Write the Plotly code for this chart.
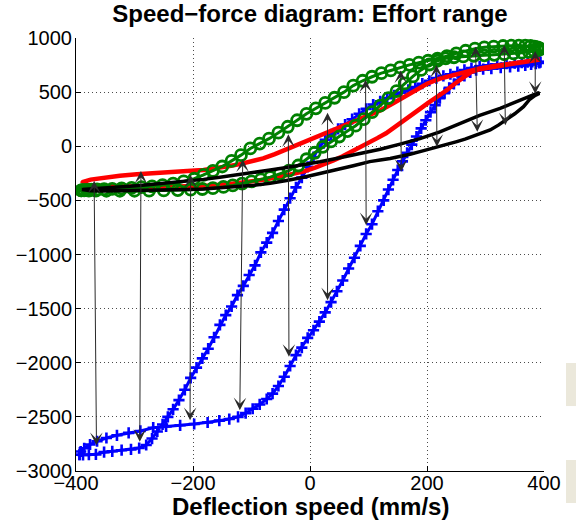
import plotly.graph_objects as go

# ---------------- data ----------------
blue_x = [-394, -388, -378, -366, -352, -338, -322, -306, -292, -280, -270, -261, -252, -243,
          -234, -224, -214, -204, -194, -184, -174, -164, -154, -144, -134, -124, -114, -104,
          -94, -84, -74, -64, -54, -44, -34, -24, -14, -4, 6, 16, 26, 36, 48, 60, 72, 84, 96,
          108, 120, 132, 144, 156, 168, 180, 192, 204, 216, 228, 240, 252, 264, 276, 290, 305,
          320, 336, 350, 362, 372, 380, 387, 392, 394, 392, 386, 378, 368, 356, 342, 326, 310,
          296, 284, 274, 264, 254, 246, 238, 230, 222, 214, 206, 198, 190, 182, 174, 166, 158,
          150, 142, 134, 126, 116, 106, 96, 86, 76, 66, 56, 46, 36, 26, 16, 6, -4, -14, -24,
          -34, -44, -54, -64, -74, -86, -98, -110, -123, -138, -155, -175, -198, -222, -246,
          -268, -290, -310, -330, -348, -364, -376, -386, -392, -394]
blue_y = [-2850, -2852, -2850, -2846, -2826, -2818, -2808, -2800, -2788, -2760, -2700, -2635,
          -2570, -2500, -2430, -2345, -2250, -2140, -2045, -1960, -1870, -1765, -1650, -1560,
          -1480, -1375, -1290, -1190, -1100, -980, -890, -800, -690, -585, -480, -380, -290,
          -190, -100, -10, 60, 110, 160, 200, 250, 300, 345, 385, 415, 445, 470, 495, 520, 548,
          578, 605, 630, 650, 665, 685, 705, 722, 738, 748, 755, 762, 767, 772, 776, 779, 781,
          781, 778, 770, 762, 755, 748, 741, 733, 725, 718, 712, 702, 682, 650, 615, 575, 540,
          490, 445, 380, 315, 240, 165, 90, 15, -60, -140, -220, -310, -400, -500, -600, -720,
          -810, -920, -1030, -1130, -1240, -1340, -1440, -1535, -1620, -1700, -1770, -1860,
          -1930, -2030, -2130, -2215, -2285, -2335, -2385, -2425, -2465, -2500, -2520, -2535,
          -2552, -2566, -2578, -2588, -2600, -2630, -2648, -2670, -2695, -2725, -2755, -2790,
          -2820, -2850]

red_x = [-390, -388, -375, -353, -325, -296, -268, -239, -210, -182, -160, -140, -120, -100,
         -80, -60, -40, -20, 0, 20, 40, 60, 80, 100, 120, 140, 160, 180, 200, 222, 245, 268,
         290, 315, 340, 365, 385, 393, 380, 359, 335, 310, 290, 275, 262, 248, 233, 217, 202,
         188, 174, 160, 145, 130, 115, 100, 85, 70, 55, 40, 25, 10, -10, -30, -55, -80, -110,
         -140, -170, -200, -240, -280, -320, -355, -380, -390]
red_y = [-345, -330, -308, -290, -272, -258, -246, -237, -228, -220, -205, -185, -165, -140,
         -112, -72, -28, 18, 62, 105, 148, 192, 236, 282, 330, 390, 455, 520, 578, 625, 658, 690,
         718, 742, 762, 780, 795, 802, 788, 772, 752, 730, 712, 685, 640, 580, 515, 450, 400,
         345, 290, 235, 175, 120, 75, 30, -10, -50, -95, -130, -165, -195, -232, -258, -285,
         -310, -335, -352, -363, -370, -374, -375, -374, -368, -358, -345]

green_x = [-391, -388, -382, -374, -364, -352, -338, -322, -305, -288, -270, -252, -234, -216,
           -198, -182, -166, -150, -134, -118, -102, -86, -70, -54, -38, -22, -6, 10, 26, 42, 58,
           74, 90, 106, 122, 138, 154, 170, 186, 202, 218, 234, 250, 266, 282, 298, 314, 330,
           344, 357, 368, 377, 384, 389, 392, 394,
           390, 383, 374, 362, 348, 332, 315, 298, 280, 262, 246, 232, 218, 204, 190, 176, 162,
           148, 134, 120, 106, 92, 78, 64, 50, 36, 22, 8, -6, -20, -36, -52, -68, -84, -100,
           -116, -132, -148, -166, -184, -204, -226, -250, -275, -300, -325, -348, -366, -378,
           -386, -391]
green_y = [-408, -405, -403, -401, -399, -397, -394, -390, -385, -378, -370, -360, -345, -325,
           -300, -265, -228, -187, -135, -82, -20, 25, 70, 125, 180, 240, 300, 350, 400, 448, 500,
           560, 605, 642, 675, 700, 728, 752, 772, 790, 810, 832, 858, 882, 902, 914, 921, 926,
           929, 930, 929, 926, 921, 914, 906, 898,
           888, 880, 872, 864, 857, 850, 845, 840, 836, 830, 822, 812, 790, 755, 705, 645, 580,
           510, 445, 375, 315, 250, 190, 140, 90, 45, -5, -60, -120, -178, -225, -258, -285,
           -306, -325, -345, -362, -376, -387, -395, -401, -405, -408, -410, -411, -411, -411,
           -410, -409, -408, -408]

black_x = [-390, -375, -353, -325, -296, -268, -239, -210, -182, -154, -125, -96, -68, -40, -11,
           17, 45, 74, 102, 120, 154, 188, 222, 256, 290, 325, 359, 380, 390,
           392, 385, 375, 365, 350, 336, 322, 308, 293, 279, 265, 251, 234, 217, 200, 188, 171,
           154, 137, 120, 102, 74, 45, 17, -11, -40, -68, -96, -125, -154, -182, -210, -239,
           -268, -296, -325, -353, -375, -388, -390]
black_y = [-400, -395, -385, -375, -364, -350, -336, -321, -306, -286, -266, -243, -220, -196,
           -173, -143, -113, -82, -52, -28, 20, 70, 132, 210, 285, 350, 425, 470, 492,
           488, 470, 430, 366, 300, 243, 195, 150, 118, 89, 65, 43, 20, -4, -28, -50, -74, -96,
           -113, -127, -142, -180, -219, -253, -287, -316, -343, -360, -373, -385, -395, -400,
           -404, -407, -410, -412, -413, -410, -405, -400]

# arrows: top tip and bottom tip of each effort-range arrow
arrow_x_top = [-369, -289, -204, -115, -37, 30, 95, 155, 216, 283, 332, 385]
arrow_y_top = [-318, -229, -266, -121, 110, 310, 615, 700, 750, 920, 935, 880]
arrow_x_bot = [-365, -291, -205, -120, -36, 30, 96, 156, 217, 286, 334, 385]
arrow_y_bot = [-2775, -2744, -2544, -2452, -1959, -1436, -743, -250, -19, 119, 181, 470]

x_ticks = [-400, -200, 0, 200, 400]
x_ticklabels = ['−400', '−200', '0', '200', '400']
y_ticks = [1000, 500, 0, -500, -1000, -1500, -2000, -2500, -3000]
y_ticklabels = ['1000', '500', '0', '−500', '−1000', '−1500', '−2000', '−2500', '−3000']

title_text = 'Speed−force diagram: Effort range'
xlabel_text = 'Deflection speed (mm/s)'

# ---------------- figure ----------------
FONT = 'Liberation Sans, Arial, Helvetica, sans-serif'
fig = go.Figure()

fig.add_trace(go.Scatter(
    x=blue_x, y=blue_y, mode='lines+markers',
    line=dict(color='#0000ff', width=3),
    marker=dict(symbol='cross-thin-open', size=8, color='#0000ff',
                line=dict(color='#0000ff', width=2.6)),
    hoverinfo='skip'))
fig.add_trace(go.Scatter(
    x=red_x, y=red_y, mode='lines',
    line=dict(color='#ff0000', width=4.5), hoverinfo='skip'))
fig.add_trace(go.Scatter(
    x=green_x, y=green_y, mode='lines+markers',
    line=dict(color='#008000', width=3),
    marker=dict(symbol='circle-open', size=11, color='#008000',
                line=dict(color='#008000', width=2.8)),
    hoverinfo='skip'))
fig.add_trace(go.Scatter(
    x=black_x, y=black_y, mode='lines',
    line=dict(color='#000000', width=3.5), hoverinfo='skip'))

for xt, yt, xb, yb in zip(arrow_x_top, arrow_y_top, arrow_x_bot, arrow_y_bot):
    fig.add_annotation(
        x=xt, y=yt, ax=xb, ay=yb, xref='x', yref='y', axref='x', ayref='y',
        text='', showarrow=True, arrowhead=3, arrowsize=2.1, arrowwidth=1,
        arrowcolor='#2a2a2a', arrowside='end+start', startarrowhead=3,
        startarrowsize=2.1, standoff=0, startstandoff=0)

axis_common = dict(
    showline=True, linecolor='black', linewidth=1, mirror=False, automargin=False,
    ticks='inside', ticklen=5, tickcolor='black', tickwidth=1,
    showgrid=True, gridcolor='rgba(0,0,0,0.7)', gridwidth=1, griddash='1px,3px',
    zeroline=False, tickfont=dict(family=FONT, size=20, color='black'))

fig.update_xaxes(range=[-400, 400], tickvals=x_ticks, ticktext=x_ticklabels,
                 ticklabelstandoff=-6, **axis_common)
fig.update_yaxes(range=[-3000, 1000], tickvals=y_ticks, ticktext=y_ticklabels,
                 ticklabelstandoff=-1, **axis_common)

fig.update_layout(
    width=576, height=526,
    margin=dict(l=76, r=32, t=38, b=55, pad=0, autoexpand=False),
    paper_bgcolor='white', plot_bgcolor='white', showlegend=False,
    title=dict(text='<b>' + title_text + '</b>', x=0.5, xref='paper', xanchor='center',
               y=1 - 14 / 526, yref='container', yanchor='middle',
               font=dict(family=FONT, size=24, color='black')),
    annotations=list(fig.layout.annotations) + [
        dict(text='<b>' + xlabel_text + '</b>', xref='paper', yref='paper', x=0.5,
             y=(471 - 506) / 433, xanchor='center', yanchor='middle', showarrow=False,
             font=dict(family=FONT, size=24, color='black'))],
    shapes=[
        dict(type='rect', xref='paper', yref='paper', x0=1.047, x1=1.07, y0=0.150, y1=0.2494,
             fillcolor='#ebe8db', line=dict(width=0), layer='below'),
        dict(type='rect', xref='paper', yref='paper', x0=1.047, x1=1.07, y0=-0.0739, y1=0.0254,
             fillcolor='#ebe8db', line=dict(width=0), layer='below'),
    ])

fig.write_html('out.html',
               config={'displayModeBar': False, 'staticPlot': True},
               post_script="document.body.style.margin='0';document.body.style.padding='0';"
                           "document.documentElement.style.overflow='hidden';"
                           "window.dispatchEvent(new Event('resize'));")
